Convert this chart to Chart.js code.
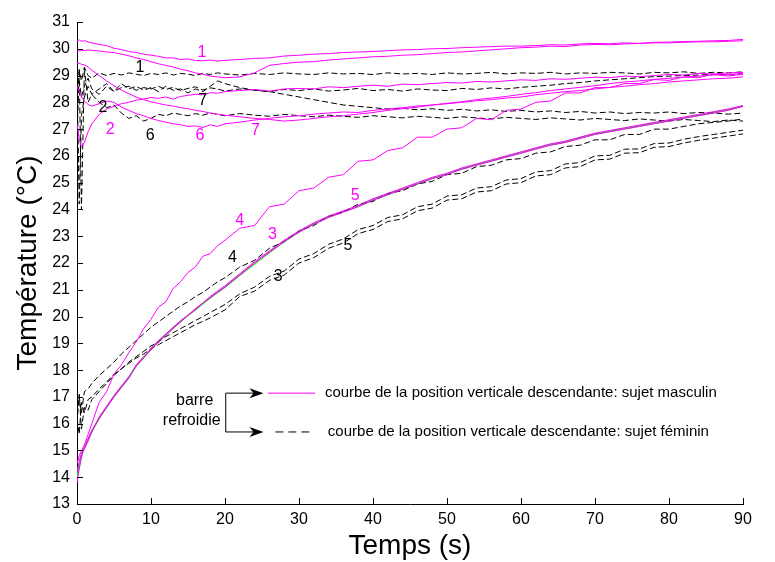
<!DOCTYPE html>
<html>
<head>
<meta charset="utf-8">
<script src="https://cdn.jsdelivr.net/npm/chart.js@4.4.1/dist/chart.umd.min.js"></script>
<style>
  body { margin: 0; background: #fff; }
  canvas { display: block; }
</style>
</head>
<body>
<canvas id="tempChart" width="775" height="562"></canvas>
<script>
// time axis shared by every curve (s)
const seconds = [0, 0.3, 0.6, 1, 1.5, 2,
  3, 4, 5, 6, 7, 8, 9, 10,
  11, 12, 13, 14, 15, 16, 17, 18, 19, 20,
  22, 24, 26, 28, 30, 32, 34, 36, 38, 40,
  42, 44, 46, 48, 50, 52, 54, 56, 58, 60,
  62, 64, 66, 68, 70, 72, 74, 76, 78, 80,
  82, 84, 86, 88, 90];

// sujet masculin (magenta)
const masculin1 = [30.30, 30.33, 30.28, 30.30, 30.26, 30.22,
  30.16, 30.12, 30.02, 29.97, 29.90, 29.86, 29.80, 29.76,
  29.72, 29.66, 29.66, 29.60, 29.62, 29.56, 29.55, 29.58, 29.54, 29.57,
  29.60, 29.64, 29.66, 29.73, 29.76, 29.80, 29.82, 29.86, 29.88, 29.90,
  29.93, 29.96, 29.97, 30.00, 30.01, 30.04, 30.06, 30.08, 30.10, 30.10,
  30.12, 30.15, 30.14, 30.18, 30.20, 30.19, 30.22, 30.20, 30.24, 30.25,
  30.27, 30.28, 30.30, 30.31, 30.35];
const masculin1b = [29.90, 29.92, 29.95, 29.93, 29.96, 29.94,
  29.92, 29.88, 29.86, 29.80, 29.74, 29.66, 29.60, 29.52,
  29.44, 29.38, 29.32, 29.24, 29.18, 29.10, 29.05, 28.98, 28.95, 28.92,
  28.95, 29.10, 29.38, 29.45, 29.50, 29.52, 29.58, 29.62, 29.66, 29.70,
  29.72, 29.76, 29.78, 29.82, 29.86, 29.88, 29.92, 29.96, 30.00, 30.04,
  30.06, 30.10, 30.08, 30.14, 30.16, 30.15, 30.18, 30.20, 30.22, 30.22,
  30.24, 30.26, 30.26, 30.28, 30.30];
const masculin2 = [27.20, 26.60, 26.35, 26.50, 26.90, 27.20,
  27.55, 27.75, 27.85, 27.95, 28.00, 28.08, 28.12, 28.18,
  28.15, 28.20, 28.12, 28.22, 28.26, 28.30, 28.28, 28.36, 28.34, 28.40,
  28.44, 28.48, 28.42, 28.50, 28.52, 28.50, 28.58, 28.55, 28.60, 28.64,
  28.60, 28.68, 28.66, 28.70, 28.74, 28.72, 28.78, 28.76, 28.80, 28.84,
  28.82, 28.88, 28.86, 28.90, 28.94, 28.92, 28.98, 28.96, 29.00, 29.04,
  29.02, 29.08, 29.06, 29.10, 29.12];
const masculin3 = [13.80, 14.30, 14.75, 15.15, 15.45, 15.75,
  16.20, 16.60, 17.00, 17.35, 17.70, 18.20, 18.50, 18.75,
  19.05, 19.30, 19.55, 19.80, 20.05, 20.25, 20.50, 20.70, 20.90, 21.10,
  21.55, 22.00, 22.40, 22.80, 23.15, 23.45, 23.70, 23.90, 24.10, 24.35,
  24.55, 24.75, 24.95, 25.15, 25.30, 25.50, 25.65, 25.80, 25.95, 26.10,
  26.25, 26.40, 26.50, 26.65, 26.80, 26.90, 27.00, 27.10, 27.20, 27.30,
  27.40, 27.50, 27.60, 27.70, 27.85];
const masculin4 = [14.50, 14.80, 15.00, 15.20, 15.60, 16.00,
  16.80, 17.20, 17.85, 18.20, 18.65, 19.05, 19.55, 19.90,
  20.35, 20.55, 21.05, 21.30, 21.65, 21.85, 22.25, 22.35, 22.65, 22.85,
  23.30, 23.40, 24.10, 24.20, 24.70, 24.80, 25.20, 25.30, 25.80, 25.85,
  26.20, 26.30, 26.70, 26.70, 27.00, 27.05, 27.40, 27.35, 27.70, 27.75,
  28.00, 28.05, 28.35, 28.35, 28.55, 28.55, 28.70, 28.70, 28.85, 28.82,
  28.95, 28.92, 29.05, 28.98, 29.05];
const masculin5 = [14.20, 14.60, 14.90, 15.05, 15.35, 15.70,
  16.25, 16.65, 17.05, 17.40, 17.75, 18.15, 18.45, 18.80,
  19.10, 19.35, 19.60, 19.85, 20.05, 20.30, 20.50, 20.75, 20.95, 21.15,
  21.60, 22.05, 22.45, 22.85, 23.20, 23.50, 23.75, 23.95, 24.15, 24.40,
  24.60, 24.80, 25.00, 25.20, 25.35, 25.55, 25.70, 25.85, 26.00, 26.15,
  26.30, 26.45, 26.55, 26.70, 26.85, 26.95, 27.05, 27.15, 27.25, 27.35,
  27.45, 27.55, 27.65, 27.75, 27.88];
const masculin6 = [28.60, 28.40, 28.20, 28.05, 27.92, 27.86,
  27.95, 28.05, 28.00, 27.82, 27.70, 27.58, 27.50, 27.40,
  27.32, 27.26, 27.20, 27.16, 27.10, 27.12, 27.06, 27.16, 27.10, 27.20,
  27.26, 27.34, 27.40, 27.46, 27.50, 27.56, 27.60, 27.64, 27.62, 27.70,
  27.75, 27.80, 27.86, 27.90, 27.95, 28.00, 28.06, 28.10, 28.16, 28.20,
  28.28, 28.34, 28.40, 28.44, 28.50, 28.56, 28.60, 28.66, 28.70, 28.76,
  28.80, 28.84, 28.88, 28.90, 28.95];
const masculin7 = [29.45, 29.46, 29.42, 29.40, 29.32, 29.20,
  29.00, 28.80, 28.62, 28.46, 28.32, 28.20, 28.10, 28.02,
  27.96, 27.90, 27.86, 27.80, 27.76, 27.70, 27.66, 27.60, 27.56, 27.52,
  27.46, 27.40, 27.36, 27.30, 27.34, 27.40, 27.46, 27.50, 27.56, 27.62,
  27.70, 27.76, 27.82, 27.90, 27.96, 28.02, 28.10, 28.16, 28.22, 28.30,
  28.36, 28.44, 28.50, 28.56, 28.62, 28.70, 28.76, 28.80, 28.86, 28.90,
  28.94, 28.98, 29.02, 29.04, 29.08];
// green curve lying on masculin 3/5
const ajustement = [14.00, 14.40, 14.80, 15.10, 15.40, 15.70,
  16.20, 16.62, 17.02, 17.38, 17.72, 18.15, 18.48, 18.78,
  19.06, 19.32, 19.58, 19.82, 20.04, 20.26, 20.48, 20.70, 20.90, 21.10,
  21.55, 21.98, 22.40, 22.80, 23.16, 23.46, 23.72, 23.92, 24.12, 24.36,
  24.56, 24.76, 24.96, 25.16, 25.32, 25.52, 25.68, 25.82, 25.98, 26.12,
  26.28, 26.42, 26.52, 26.68, 26.82, 26.92, 27.02, 27.12, 27.22, 27.32,
  27.42, 27.52, 27.62, 27.72, 27.86];

// sujet féminin (black dashed)
const feminin1 = [27.00, 29.20, 28.80, 29.30, 29.00, 28.90,
  29.10, 29.00, 29.08, 29.02, 29.10, 29.05, 29.00, 29.08,
  29.04, 29.10, 29.02, 29.08, 29.05, 29.00, 29.08, 29.04, 29.10, 29.06,
  29.02, 29.08, 29.04, 29.10, 29.06, 29.04, 29.10, 29.06, 29.08, 29.04,
  29.10, 29.06, 29.08, 29.04, 29.10, 29.06, 29.08, 29.12, 29.06, 29.10,
  29.08, 29.12, 29.06, 29.10, 29.08, 29.12, 29.10, 29.06, 29.12, 29.10,
  29.14, 29.08, 29.12, 29.10, 29.14];
const feminin2 = [29.00, 24.20, 27.50, 28.20, 28.60, 28.30,
  28.50, 28.70, 28.40, 28.55, 28.60, 28.45, 28.55, 28.50,
  28.60, 28.48, 28.56, 28.44, 28.52, 28.58, 28.46, 28.54, 28.50, 28.42,
  28.50, 28.46, 28.40, 28.48, 28.44, 28.50, 28.42, 28.46, 28.52, 28.44,
  28.48, 28.42, 28.50, 28.46, 28.44, 28.52, 28.48, 28.54, 28.50, 28.56,
  28.60, 28.64, 28.70, 28.74, 28.80, 28.84, 28.88, 28.92, 28.96, 28.98,
  29.00, 29.02, 29.04, 29.02, 29.06];
const feminin3 = [16.20, 15.60, 16.80, 16.40, 16.90, 17.00,
  17.30, 17.55, 17.85, 18.05, 18.25, 18.45, 18.60, 18.80,
  18.95, 19.10, 19.25, 19.40, 19.55, 19.70, 19.82, 19.95, 20.10, 20.25,
  20.75, 20.95, 21.35, 21.55, 22.00, 22.20, 22.55, 22.75, 23.10, 23.25,
  23.55, 23.65, 23.95, 24.05, 24.35, 24.40, 24.65, 24.70, 24.95, 25.00,
  25.25, 25.30, 25.55, 25.60, 25.85, 25.88, 26.10, 26.12, 26.32, 26.35,
  26.48, 26.58, 26.66, 26.74, 26.82];
const feminin4 = [16.60, 17.00, 16.40, 17.20, 17.30, 17.50,
  17.80, 18.05, 18.30, 18.60, 18.85, 19.10, 19.35, 19.60,
  19.80, 20.00, 20.20, 20.40, 20.55, 20.75, 20.90, 21.10, 21.30, 21.45,
  21.85, 22.10, 22.55, 22.80, 23.20, 23.40, 23.75, 23.90, 24.20, 24.30,
  24.60, 24.70, 24.95, 25.05, 25.30, 25.35, 25.60, 25.65, 25.85, 25.90,
  26.10, 26.15, 26.35, 26.40, 26.60, 26.60, 26.80, 26.80, 27.00, 27.00,
  27.10, 27.20, 27.25, 27.30, 27.38];
const feminin5 = [16.00, 17.10, 15.80, 16.60, 16.50, 16.90,
  17.20, 17.50, 17.80, 18.05, 18.30, 18.50, 18.70, 18.90,
  19.05, 19.25, 19.40, 19.55, 19.70, 19.85, 20.00, 20.15, 20.30, 20.45,
  20.85, 21.10, 21.50, 21.70, 22.15, 22.35, 22.70, 22.90, 23.25, 23.40,
  23.70, 23.80, 24.10, 24.20, 24.50, 24.55, 24.80, 24.85, 25.10, 25.15,
  25.40, 25.45, 25.70, 25.75, 26.00, 26.02, 26.25, 26.26, 26.46, 26.48,
  26.62, 26.72, 26.80, 26.88, 26.96];
const feminin6 = [27.00, 29.25, 24.00, 29.30, 28.00, 28.30,
  28.00, 27.80, 27.90, 27.60, 27.40, 27.50, 27.30, 27.40,
  27.55, 27.50, 27.60, 27.55, 27.50, 27.58, 27.52, 27.60, 27.55, 27.50,
  27.58, 27.52, 27.48, 27.55, 27.50, 27.46, 27.52, 27.48, 27.44, 27.50,
  27.46, 27.42, 27.48, 27.44, 27.40, 27.46, 27.42, 27.38, 27.44, 27.40,
  27.36, 27.42, 27.38, 27.34, 27.40, 27.36, 27.32, 27.38, 27.34, 27.30,
  27.36, 27.32, 27.28, 27.34, 27.30];
const feminin7 = [28.40, 28.80, 28.20, 28.60, 28.90, 28.50,
  28.30, 28.60, 28.40, 28.70, 28.50, 28.60, 28.45, 28.55,
  28.40, 28.60, 28.45, 28.50, 28.35, 28.50, 28.40, 28.60, 28.80, 28.70,
  28.55, 28.45, 28.40, 28.30, 28.20, 28.10, 28.00, 27.90, 27.85, 27.80,
  27.75, 27.78, 27.72, 27.76, 27.70, 27.74, 27.68, 27.72, 27.66, 27.70,
  27.64, 27.68, 27.62, 27.66, 27.60, 27.64, 27.58, 27.62, 27.60, 27.64,
  27.58, 27.62, 27.60, 27.56, 27.60];

// tick values
const xTicks = [0, 10, 20, 30, 40, 50, 60, 70, 80, 90];
const yTicks = [13, 14, 15, 16, 17, 18, 19, 20, 21, 22, 23, 24, 25, 26, 27, 28, 29, 30, 31];

// curve numbers written next to the curves (data coordinates)
const curveLabels = [
  { text: '1', x: 16.9, y: 29.87, color: '#ff00ff' },
  { text: '2', x: 4.5, y: 27.0, color: '#ff00ff' },
  { text: '6', x: 16.6, y: 26.75, color: '#ff00ff' },
  { text: '7', x: 24.1, y: 26.95, color: '#ff00ff' },
  { text: '4', x: 22.0, y: 23.6, color: '#ff00ff' },
  { text: '3', x: 26.4, y: 23.05, color: '#ff00ff' },
  { text: '5', x: 37.6, y: 24.5, color: '#ff00ff' },
  { text: '1', x: 8.5, y: 29.3, color: '#000000' },
  { text: '2', x: 3.5, y: 27.8, color: '#000000' },
  { text: '6', x: 9.9, y: 26.75, color: '#000000' },
  { text: '7', x: 17.0, y: 28.07, color: '#000000' },
  { text: '4', x: 21.0, y: 22.2, color: '#000000' },
  { text: '3', x: 27.2, y: 21.5, color: '#000000' },
  { text: '5', x: 36.6, y: 22.66, color: '#000000' }
];

const MAGENTA = '#ff00ff';
const FONT = '"Liberation Sans", Arial, sans-serif';

function toPoints(values) {
  return seconds.map((s, i) => ({ x: s, y: values[i] }));
}

function solid(label, values, color, width) {
  return { label, data: toPoints(values), borderColor: color, borderWidth: width || 1, pointRadius: 0, tension: 0, fill: false };
}

function dashed(label, values) {
  return { label, data: toPoints(values), borderColor: '#000000', borderWidth: 1, borderDash: [6, 3], pointRadius: 0, tension: 0, fill: false };
}

// first dataset is drawn on top
const datasets = [
  solid('masculin 1', masculin1, MAGENTA),
  solid('masculin 1b', masculin1b, MAGENTA),
  solid('masculin 2', masculin2, MAGENTA),
  solid('masculin 3', masculin3, MAGENTA),
  solid('masculin 4', masculin4, MAGENTA),
  solid('masculin 5', masculin5, MAGENTA),
  solid('masculin 6', masculin6, MAGENTA),
  solid('masculin 7', masculin7, MAGENTA),
  dashed('féminin 1', feminin1),
  dashed('féminin 2', feminin2),
  dashed('féminin 3', feminin3),
  dashed('féminin 4', feminin4),
  dashed('féminin 5', feminin5),
  dashed('féminin 6', feminin6),
  dashed('féminin 7', feminin7),
  solid('ajustement', ajustement, '#00ff00', 1.5)
];

// inward tick marks, curve numbers and the hand-drawn legend
const decorations = {
  id: 'decorations',
  afterDraw(chart) {
    const ctx = chart.ctx;
    const xs = chart.scales.x, ys = chart.scales.y;
    const area = chart.chartArea;
    ctx.save();
    ctx.strokeStyle = '#000';
    ctx.lineWidth = 1;
    ctx.beginPath();
    yTicks.forEach(v => {
      const py = Math.round(ys.getPixelForValue(v)) + 0.5;
      ctx.moveTo(area.left, py);
      ctx.lineTo(area.left + 6, py);
    });
    xTicks.forEach(v => {
      const px = Math.round(xs.getPixelForValue(v)) + 0.5;
      ctx.moveTo(px, area.bottom);
      ctx.lineTo(px, area.bottom - 6);
    });
    ctx.stroke();

    ctx.font = '16px ' + FONT;
    ctx.textAlign = 'center';
    ctx.textBaseline = 'middle';
    curveLabels.forEach(l => {
      ctx.fillStyle = l.color;
      ctx.fillText(l.text, xs.getPixelForValue(l.x), ys.getPixelForValue(l.y));
    });

    // legend
    const yTop = ys.getPixelForValue(17.14);
    const yBot = ys.getPixelForValue(15.69);
    const bx = xs.getPixelForValue(20.1);
    const tip = xs.getPixelForValue(25.2);
    ctx.fillStyle = '#000';
    ctx.font = '16px ' + FONT;
    ctx.fillText('barre', xs.getPixelForValue(15.9), ys.getPixelForValue(16.88));
    ctx.fillText('refroidie', xs.getPixelForValue(15.5), ys.getPixelForValue(16.13));
    ctx.beginPath();
    ctx.moveTo(tip - 8, yTop);
    ctx.lineTo(bx, yTop);
    ctx.lineTo(bx, yBot);
    ctx.lineTo(tip - 8, yBot);
    ctx.stroke();
    [yTop, yBot].forEach(y => {
      ctx.beginPath();
      ctx.moveTo(tip, y);
      ctx.lineTo(tip - 14, y - 5);
      ctx.lineTo(tip - 10, y);
      ctx.lineTo(tip - 14, y + 5);
      ctx.closePath();
      ctx.fill();
    });
    ctx.strokeStyle = MAGENTA;
    ctx.beginPath();
    ctx.moveTo(xs.getPixelForValue(25.8), yTop);
    ctx.lineTo(xs.getPixelForValue(32.2), yTop);
    ctx.stroke();
    ctx.strokeStyle = '#000';
    ctx.setLineDash([8, 5]);
    ctx.beginPath();
    ctx.moveTo(xs.getPixelForValue(26.8), yBot);
    ctx.lineTo(xs.getPixelForValue(31.6), yBot);
    ctx.stroke();
    ctx.setLineDash([]);
    ctx.font = '15px ' + FONT;
    ctx.textAlign = 'left';
    ctx.fillText('courbe de la position verticale descendante: sujet masculin', xs.getPixelForValue(33.5), yTop);
    ctx.fillText('courbe de la position verticale descendante: sujet féminin', xs.getPixelForValue(33.9), yBot);
    ctx.restore();
  }
};

const ctx = document.getElementById('tempChart').getContext('2d');
new Chart(ctx, {
  type: 'line',
  data: { datasets },
  options: {
    responsive: false,
    animation: false,
    events: [],
    layout: { padding: { top: 22, right: 32, left: 0, bottom: 0 } },
    plugins: { legend: { display: false }, tooltip: { enabled: false } },
    scales: {
      x: {
        type: 'linear', min: 0, max: 90,
        ticks: { stepSize: 10, color: '#000', font: { family: FONT, size: 16 }, padding: 6, maxRotation: 0 },
        grid: { display: false, drawTicks: false },
        border: { color: '#000', width: 1 },
        title: { display: true, text: 'Temps (s)', color: '#000', font: { family: FONT, size: 28, lineHeight: 1 }, padding: { top: 0, bottom: 2 } },
        afterFit(scale) { scale.height = 58; }
      },
      y: {
        type: 'linear', min: 13, max: 31,
        ticks: { stepSize: 1, autoSkip: false, color: '#000', font: { family: FONT, size: 16 }, padding: 7 },
        grid: { display: false, drawTicks: false },
        border: { color: '#000', width: 1 },
        title: { display: true, text: 'Température (°C)', color: '#000', font: { family: FONT, size: 28, lineHeight: 1 }, padding: { top: 14, bottom: 0 } },
        afterFit(scale) { scale.width = 77; }
      }
    }
  },
  plugins: [decorations]
});
</script>
</body>
</html>
